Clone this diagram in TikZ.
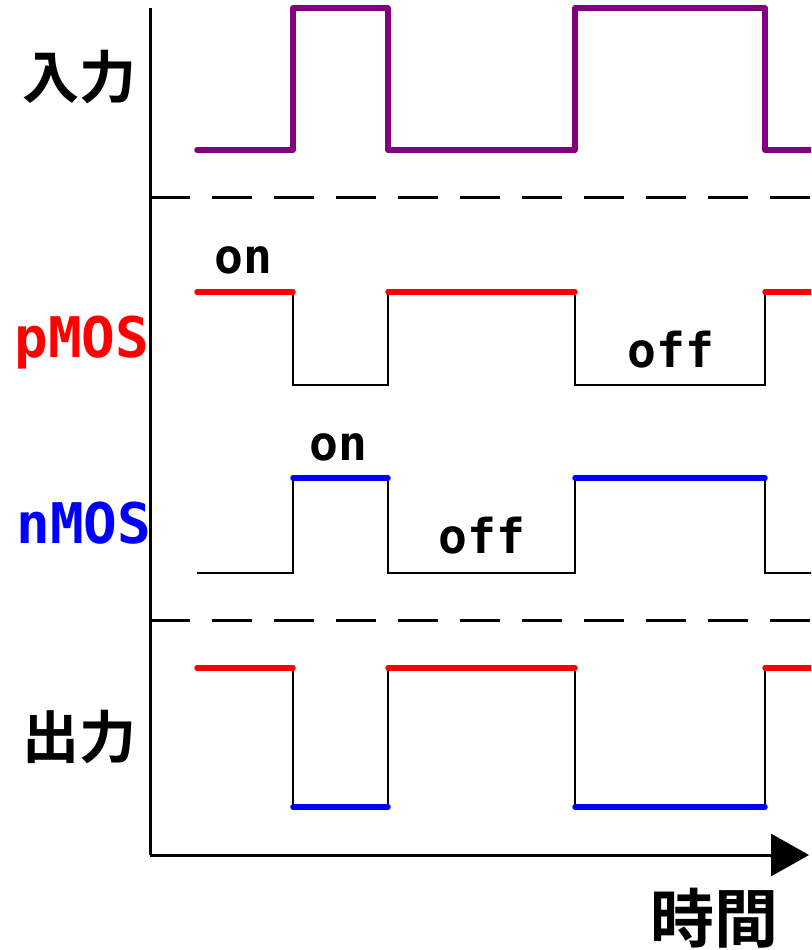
\documentclass[tikz,border=0pt]{standalone}
\usepackage{fontspec}
\newfontfamily\cjk{Noto Sans CJK JP}[BoldFont={* Bold}]
\newfontfamily\mono{DejaVu Sans Mono}
\usetikzlibrary{arrows.meta}
\begin{document}
\begin{tikzpicture}[x=1pt,y=-1pt,
  sig/.style={line width=5.5pt,line cap=round},
  edge/.style={line width=2.6pt,black},
  axis/.style={line width=3pt,black},
  sep/.style={line width=3pt,black,dash pattern=on 40pt off 22pt},
  cjklab/.style={font=\cjk\bfseries\fontsize{57}{60}\selectfont,inner sep=0pt},
  moslab/.style={font=\mono\bfseries\fontsize{56}{60}\selectfont,inner sep=0pt,anchor=base},
  state/.style={font=\mono\bfseries\fontsize{48}{52}\selectfont,inner sep=0pt,anchor=base}]
\useasboundingbox (0,0) rectangle (811,950);
\fill[white] (0,0) rectangle (811,950);
\clip (0,0) rectangle (811,950);
\definecolor{inpurple}{RGB}{128,0,128}
% labels
\node[cjklab] (in) at (79,77) {入力};
\node[moslab,red] (pm) at (82,357) {pMOS};
\node[moslab,blue] (nm) at (84,543) {nMOS};
\node[cjklab] (out) at (79,737) {出力};
\node[cjklab,font=\cjk\bfseries\fontsize{64}{68}\selectfont] (time) at (714,918) {時間};
\node[state] (on1) at (243,273) {on};
\node[state] (off1) at (671,367) {off};
\node[state] (on2) at (338,460) {on};
\node[state] (off2) at (482,553) {off};
% separators
\draw[sep] (150,197) -- (820,197);
\draw[sep] (150,620) -- (820,620);
% input
\draw[sig,inpurple,line join=round]
  (197,150) -- (293,150) -- (293,8) -- (388,8) -- (388,150) -- (575,150) -- (575,8) -- (765,8) -- (765,150) -- (830,150);
% pMOS
\draw[edge] (293,292) -- (293,385) -- (388,385) -- (388,292);
\draw[edge] (575,292) -- (575,385) -- (765,385) -- (765,292);
\draw[sig,red] (197,292) -- (293,292);
\draw[sig,red] (388,292) -- (575,292);
\draw[sig,red] (765,292) -- (830,292);
% nMOS
\draw[edge] (197,573) -- (293,573) -- (293,478);
\draw[edge] (388,478) -- (388,573) -- (575,573) -- (575,478);
\draw[edge] (765,478) -- (765,573) -- (830,573);
\draw[sig,blue] (293,478) -- (388,478);
\draw[sig,blue] (575,478) -- (765,478);
% output
\draw[edge] (293,668) -- (293,807);
\draw[edge] (388,668) -- (388,807);
\draw[edge] (575,668) -- (575,807);
\draw[edge] (765,668) -- (765,807);
\draw[sig,red] (197,668) -- (293,668);
\draw[sig,red] (388,668) -- (575,668);
\draw[sig,red] (765,668) -- (830,668);
\draw[sig,blue] (293,807) -- (388,807);
\draw[sig,blue] (575,807) -- (765,807);
% axes
\coordinate (top) at (150,8);
\coordinate (origin) at (150,855);
\coordinate (tip) at (809,855);
\draw[axis] (top) -- (origin);
\draw[axis,-{Triangle[length=38pt,width=42pt]}] (origin) -- (tip);
\end{tikzpicture}
\end{document}
